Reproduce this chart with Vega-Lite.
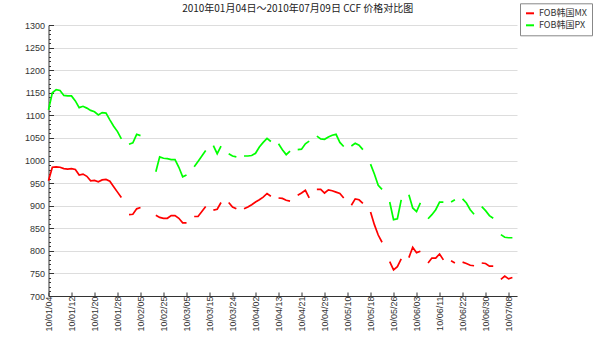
{
  "$schema": "https://vega.github.io/schema/vega-lite/v6.json",
  "width": 468.5,
  "height": 271,
  "autosize": {"type": "none"},
  "padding": {"left": 48.5, "top": 25, "right": 79, "bottom": 62},
  "background": "white",
  "title": {
    "text": "2010年01月04日～2010年07月09日 CCF 价格对比图",
    "font": "Noto Sans CJK SC",
    "fontSize": 10,
    "fontWeight": "normal",
    "color": "#222222",
    "anchor": "middle",
    "frame": "group",
    "dx": 15,
    "offset": -11
  },
  "data": {
    "values": [
      {"i": 0, "MX": 955, "PX": 1112},
      {"i": 1, "MX": 985, "PX": 1150},
      {"i": 2, "MX": 986, "PX": 1157},
      {"i": 3, "MX": 985, "PX": 1155},
      {"i": 4, "MX": 982, "PX": 1144},
      {"i": 5, "MX": 981, "PX": 1143},
      {"i": 6, "MX": 982, "PX": 1143},
      {"i": 7, "MX": 980, "PX": 1132},
      {"i": 8, "MX": 968, "PX": 1117},
      {"i": 9, "MX": 970, "PX": 1120},
      {"i": 10, "MX": 965, "PX": 1116},
      {"i": 11, "MX": 955, "PX": 1111},
      {"i": 12, "MX": 956, "PX": 1108},
      {"i": 13, "MX": 953, "PX": 1101},
      {"i": 14, "MX": 957, "PX": 1106},
      {"i": 15, "MX": 958, "PX": 1105},
      {"i": 16, "MX": 954, "PX": 1090},
      {"i": 17, "MX": 942, "PX": 1076},
      {"i": 18, "MX": 930, "PX": 1064},
      {"i": 19, "MX": 918, "PX": 1048},
      {"i": 20, "MX": null, "PX": null},
      {"i": 21, "MX": 880, "PX": 1036},
      {"i": 22, "MX": 881, "PX": 1039},
      {"i": 23, "MX": 893, "PX": 1058},
      {"i": 24, "MX": 896, "PX": 1055},
      {"i": 25, "MX": null, "PX": null},
      {"i": 26, "MX": null, "PX": null},
      {"i": 27, "MX": null, "PX": null},
      {"i": 28, "MX": 879, "PX": 975},
      {"i": 29, "MX": 874, "PX": 1008},
      {"i": 30, "MX": 872, "PX": 1005},
      {"i": 31, "MX": 872, "PX": 1004},
      {"i": 32, "MX": 878, "PX": 1002},
      {"i": 33, "MX": 878, "PX": 1002},
      {"i": 34, "MX": 872, "PX": 985},
      {"i": 35, "MX": 862, "PX": 964},
      {"i": 36, "MX": 862, "PX": 968},
      {"i": 37, "MX": null, "PX": null},
      {"i": 38, "MX": 876, "PX": 986},
      {"i": 39, "MX": 876, "PX": 998},
      {"i": 40, "MX": 887, "PX": 1010},
      {"i": 41, "MX": 898, "PX": 1022},
      {"i": 42, "MX": null, "PX": null},
      {"i": 43, "MX": 890, "PX": 1033},
      {"i": 44, "MX": 892, "PX": 1015},
      {"i": 45, "MX": 907, "PX": 1032},
      {"i": 46, "MX": null, "PX": null},
      {"i": 47, "MX": 907, "PX": 1015},
      {"i": 48, "MX": 897, "PX": 1010},
      {"i": 49, "MX": 893, "PX": 1008},
      {"i": 50, "MX": null, "PX": null},
      {"i": 51, "MX": 893, "PX": 1010},
      {"i": 52, "MX": 897, "PX": 1010},
      {"i": 53, "MX": 902, "PX": 1011},
      {"i": 54, "MX": 908, "PX": 1016},
      {"i": 55, "MX": 913, "PX": 1030},
      {"i": 56, "MX": 919, "PX": 1040},
      {"i": 57, "MX": 927, "PX": 1049},
      {"i": 58, "MX": 921, "PX": 1042},
      {"i": 59, "MX": null, "PX": null},
      {"i": 60, "MX": 917, "PX": 1037},
      {"i": 61, "MX": 916, "PX": 1024},
      {"i": 62, "MX": 912, "PX": 1013},
      {"i": 63, "MX": 910, "PX": 1021},
      {"i": 64, "MX": null, "PX": null},
      {"i": 65, "MX": 923, "PX": 1024},
      {"i": 66, "MX": 928, "PX": 1025},
      {"i": 67, "MX": 934, "PX": 1037},
      {"i": 68, "MX": 917, "PX": 1043},
      {"i": 69, "MX": null, "PX": null},
      {"i": 70, "MX": 936, "PX": 1054},
      {"i": 71, "MX": 936, "PX": 1048},
      {"i": 72, "MX": 928, "PX": 1047},
      {"i": 73, "MX": 935, "PX": 1052},
      {"i": 74, "MX": 933, "PX": 1056},
      {"i": 75, "MX": 930, "PX": 1058},
      {"i": 76, "MX": 927, "PX": 1040},
      {"i": 77, "MX": 917, "PX": 1031},
      {"i": 78, "MX": null, "PX": null},
      {"i": 79, "MX": 901, "PX": 1032},
      {"i": 80, "MX": 915, "PX": 1038},
      {"i": 81, "MX": 913, "PX": 1034},
      {"i": 82, "MX": 905, "PX": 1024},
      {"i": 83, "MX": null, "PX": null},
      {"i": 84, "MX": 886, "PX": 992},
      {"i": 85, "MX": 858, "PX": 970},
      {"i": 86, "MX": 835, "PX": 945},
      {"i": 87, "MX": 819, "PX": 936},
      {"i": 88, "MX": null, "PX": null},
      {"i": 89, "MX": 776, "PX": 908},
      {"i": 90, "MX": 758, "PX": 869},
      {"i": 91, "MX": 765, "PX": 871},
      {"i": 92, "MX": 782, "PX": 913},
      {"i": 93, "MX": null, "PX": null},
      {"i": 94, "MX": 785, "PX": 924},
      {"i": 95, "MX": 808, "PX": 895},
      {"i": 96, "MX": 796, "PX": 887},
      {"i": 97, "MX": 799, "PX": 906},
      {"i": 98, "MX": null, "PX": null},
      {"i": 99, "MX": 773, "PX": 871},
      {"i": 100, "MX": 784, "PX": 880},
      {"i": 101, "MX": 784, "PX": 891},
      {"i": 102, "MX": 793, "PX": 908},
      {"i": 103, "MX": 780, "PX": 908},
      {"i": 104, "MX": null, "PX": null},
      {"i": 105, "MX": 778, "PX": 908},
      {"i": 106, "MX": 773, "PX": 913},
      {"i": 107, "MX": null, "PX": null},
      {"i": 108, "MX": 775, "PX": 915},
      {"i": 109, "MX": 772, "PX": 906},
      {"i": 110, "MX": 768, "PX": 891},
      {"i": 111, "MX": 767, "PX": 881},
      {"i": 112, "MX": null, "PX": null},
      {"i": 113, "MX": 773, "PX": 898},
      {"i": 114, "MX": 772, "PX": 889},
      {"i": 115, "MX": 766, "PX": 878},
      {"i": 116, "MX": 766, "PX": 872},
      {"i": 117, "MX": null, "PX": null},
      {"i": 118, "MX": 737, "PX": 836},
      {"i": 119, "MX": 744, "PX": 830},
      {"i": 120, "MX": 738, "PX": 829},
      {"i": 121, "MX": 741, "PX": 829}
    ]
  },
  "transform": [{"fold": ["MX", "PX"], "as": ["series", "value"]}],
  "mark": {"type": "line", "strokeWidth": 1.7, "invalid": "break-paths-show-domains"},
  "encoding": {
    "x": {
      "field": "i",
      "type": "quantitative",
      "scale": {"domain": [0, 122.2], "nice": false, "zero": false},
      "axis": {
        "title": null,
        "grid": false,
        "values": [0, 6, 12, 18, 24, 30, 36, 42, 48, 54, 60, 66, 72, 78, 84, 90, 96, 102, 108, 114, 120],
        "labelExpr": "['10/01/04','10/01/12','10/01/20','10/01/28','10/02/05','10/02/25','10/03/05','10/03/15','10/03/24','10/04/02','10/04/13','10/04/21','10/04/29','10/05/10','10/05/18','10/05/26','10/06/03','10/06/11','10/06/22','10/06/30','10/07/08'][round(datum.value/6)]",
        "labelAngle": 270,
        "labelAlign": "right",
        "labelBaseline": "middle",
        "labelFont": "Liberation Sans",
        "labelFontSize": 9,
        "labelColor": "#333333",
        "labelOverlap": false,
        "labelPadding": 4,
        "tickSize": -4,
        "tickColor": "#333333",
        "domainColor": "#333333"
      }
    },
    "y": {
      "field": "value",
      "type": "quantitative",
      "scale": {"domain": [700, 1300], "nice": false, "zero": false},
      "axis": {
        "title": null,
        "format": "d",
        "values": [700, 710, 720, 730, 740, 750, 760, 770, 780, 790, 800, 810, 820, 830, 840, 850, 860, 870, 880, 890, 900, 910, 920, 930, 940, 950, 960, 970, 980, 990, 1000, 1010, 1020, 1030, 1040, 1050, 1060, 1070, 1080, 1090, 1100, 1110, 1120, 1130, 1140, 1150, 1160, 1170, 1180, 1190, 1200, 1210, 1220, 1230, 1240, 1250, 1260, 1270, 1280, 1290, 1300],
        "labelExpr": "datum.value % 50 === 0 ? datum.label : ''",
        "labelOverlap": false,
        "labelFont": "Liberation Sans",
        "labelFontSize": 9,
        "labelColor": "#333333",
        "labelPadding": 9,
        "tickSize": {"condition": {"test": "datum.value % 50 === 0", "value": -5}, "value": -2},
        "tickColor": "#333333",
        "domainColor": "#333333",
        "grid": true,
        "gridColor": "#dddddd",
        "gridOpacity": {"condition": {"test": "datum.value % 50 === 0", "value": 1}, "value": 0}
      }
    },
    "color": {
      "field": "series",
      "type": "nominal",
      "scale": {"domain": ["MX", "PX"], "range": ["#ff0000", "#00ff00"]},
      "legend": {
        "title": null,
        "orient": "none",
        "legendX": 471.5,
        "legendY": -21.7,
        "padding": 5,
        "strokeColor": "#888888",
        "fillColor": "white",
        "symbolType": "stroke",
        "symbolSize": 64,
        "symbolStrokeWidth": 2,
        "labelFont": "Noto Sans CJK SC",
        "labelFontSize": 9,
        "labelColor": "#333333",
        "rowPadding": 2,
        "labelExpr": "'FOB韩国' + datum.label"
      }
    }
  },
  "config": {"view": {"stroke": null}}
}
